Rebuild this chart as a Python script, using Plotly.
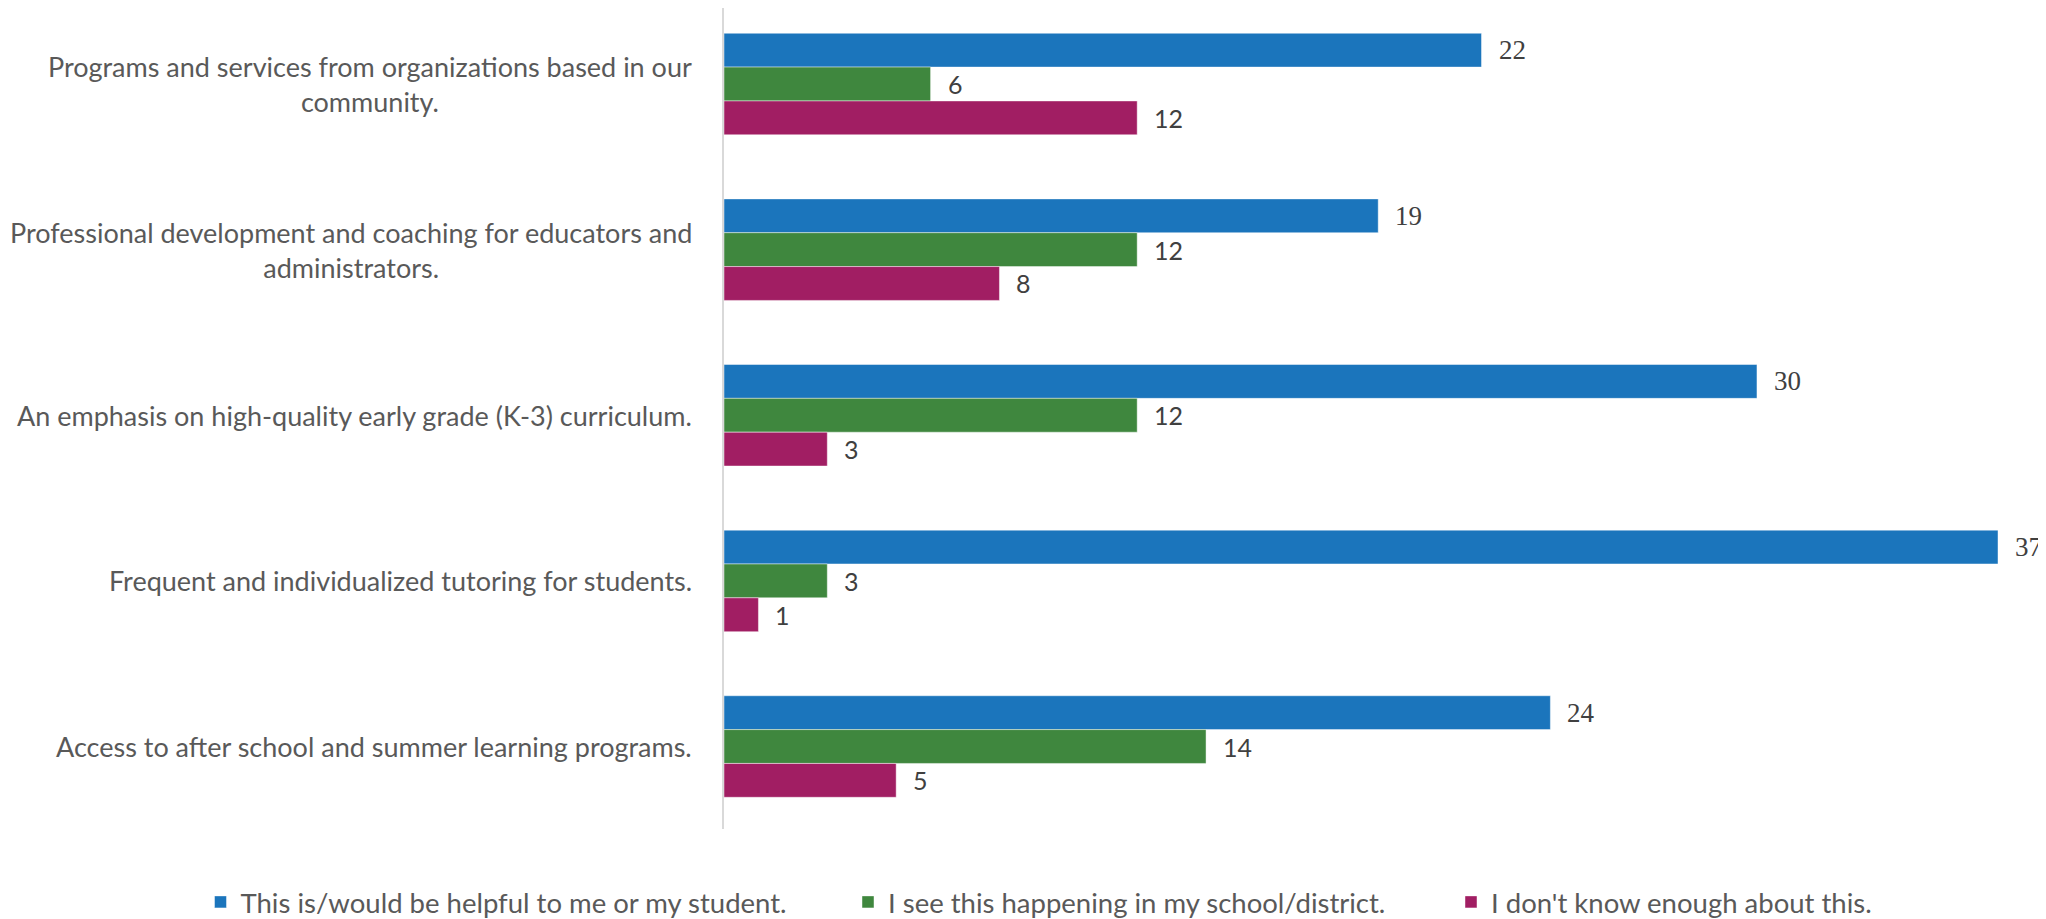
import plotly.graph_objects as go

categories = [
    "Programs and services from organizations based in our<br>community.",
    "Professional development and coaching for educators and<br>administrators.",
    "An emphasis on high-quality early grade (K-3) curriculum.",
    "Frequent and individualized tutoring for students.",
    "Access to after school and summer learning programs.",
]
series_names = [
    "This is/would be helpful to me or my student.",
    "I see this happening in my school/district.",
    "I don't know enough about this.",
]
helpful = [22, 19, 30, 37, 24]
happening = [6, 12, 12, 3, 14]
dont_know = [12, 8, 3, 1, 5]

colors = ["#1B75BC", "#3F873E", "#A11E63"]
label_fonts = [
    dict(family="Liberation Serif", size=27, color="#404040"),
    dict(family="Lato", size=25, color="#404040"),
    dict(family="Lato", size=25, color="#404040"),
]
# page has an 8px body margin, so figure is 8px smaller than the window
W, H = 2038, 911
legend_x_px = [192.5, 840, 1443]

fig = go.Figure()
all_vals = [helpful, happening, dont_know]
legend_ids = ["legend", "legend2", "legend3"]
for i, (name, vals) in enumerate(zip(series_names, all_vals)):
    fig.add_trace(go.Bar(
        y=categories, x=vals, name=name, orientation="h",
        marker=dict(color=colors[i], line=dict(color="rgba(255,255,255,0.45)", width=1)),
        legend=legend_ids[i], offsetgroup=str(i),
    ))

annotations = []
for c in categories:
    annotations.append(dict(
        x=0, xref="x", y=c, yref="y", text=c, showarrow=False,
        xanchor="right", yanchor="middle", align="center", xshift=-30,
        font=dict(family="Lato", size=27, color="#595959"),
    ))

n_series = len(all_vals)
group_frac = 1 - 0.387
for i, vals in enumerate(all_vals):
    for j, v in enumerate(vals):
        off = (i - (n_series - 1) / 2) * group_frac / n_series
        annotations.append(dict(
            x=v, xref="x", y=j + off, yref="y", text=str(v), showarrow=False,
            xanchor="left", yanchor="middle", xshift=15,
            font=label_fonts[i],
        ))

fig.update_layout(
    width=W, height=H,
    margin=dict(l=716, r=48, t=0, b=90),
    plot_bgcolor="white", paper_bgcolor="white",
    barmode="group", bargap=0.387, bargroupgap=0,
    xaxis=dict(range=[0, 37], showgrid=False, zeroline=False, showticklabels=False,
               showline=False, fixedrange=True),
    yaxis=dict(range=[4.498, -0.459], showticklabels=False, showgrid=False,
               zeroline=False, showline=True, linecolor="#D9D9D9", linewidth=2,
               ticks=""),
    annotations=annotations,
    showlegend=True,
)

legend_common = dict(orientation="h", xref="container", yref="container",
                     yanchor="middle", y=1 - 894 / H,
                     font=dict(family="Lato", size=27.5, color="#595959"),
                     bgcolor="rgba(0,0,0,0)")
fig.update_layout(
    legend=dict(x=legend_x_px[0] / W, **legend_common),
    legend2=dict(x=legend_x_px[1] / W, **legend_common),
    legend3=dict(x=legend_x_px[2] / W, **legend_common),
)

fig.write_html("out.html")
